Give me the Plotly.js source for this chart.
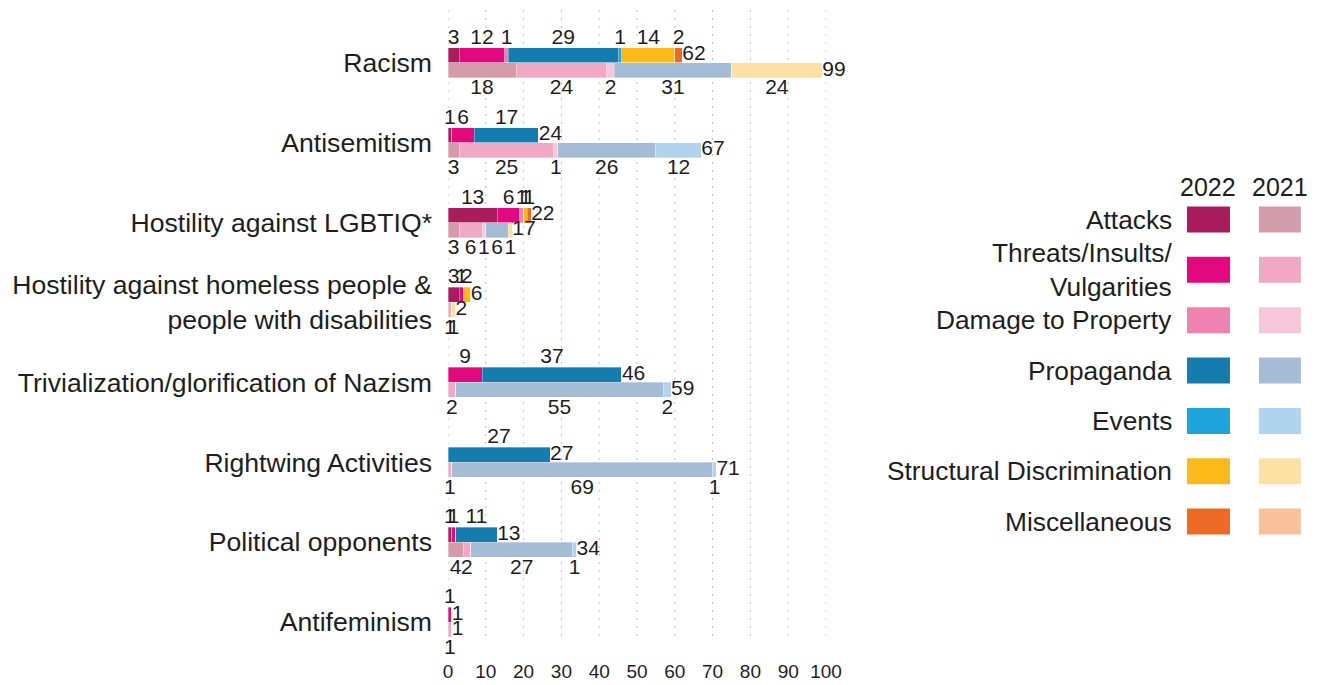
<!DOCTYPE html>
<html><head><meta charset="utf-8">
<script src="https://cdn.plot.ly/plotly-3.0.1.min.js"></script>
<style>html,body{margin:0;padding:0;background:#fff;} #chart{width:1321px;height:685px;}</style>
</head><body><div id="chart"></div>
<script>
// ---------- DATA ----------
const categories = [
  "Racism",
  "Antisemitism",
  "Hostility against LGBTIQ*",
  "Hostility against homeless people &<br>people with disabilities",
  "Trivialization/glorification of Nazism",
  "Rightwing Activities",
  "Political opponents",
  "Antifeminism"
];
const seriesNames = ["Attacks", "Threats/Insults/<br>Vulgarities", "Damage to Property", "Propaganda", "Events", "Structural Discrimination", "Miscellaneous"];
const yearLabels = ["2022", "2021"];
const colors2022 = ["#a91d5f", "#e4087e", "#ee82b0", "#137db0", "#1fa3dc", "#fbb91a", "#ec6a24"];
const colors2021 = ["#d49bab", "#f1a8c3", "#f6c7db", "#a4bcd6", "#b0d3ee", "#fde0a3", "#f8c09b"];

const attacks2022    = [3, 1, 13, 3, 0, 0, 1, 0];
const threats2022    = [12, 6, 6, 1, 9, 0, 1, 1];
const damage2022     = [1, 0, 1, 0, 0, 0, 0, 0];
const propaganda2022 = [29, 17, 0, 0, 37, 27, 11, 0];
const events2022     = [1, 0, 0, 0, 0, 0, 0, 0];
const structural2022 = [14, 0, 1, 2, 0, 0, 0, 0];
const misc2022       = [2, 0, 1, 0, 0, 0, 0, 0];

const attacks2021    = [18, 3, 3, 0, 0, 0, 4, 0];
const threats2021    = [24, 25, 6, 1, 2, 1, 2, 1];
const damage2021     = [2, 1, 1, 0, 0, 0, 0, 0];
const propaganda2021 = [31, 26, 6, 0, 55, 69, 27, 0];
const events2021     = [0, 12, 0, 0, 2, 1, 1, 0];
const structural2021 = [24, 0, 1, 1, 0, 0, 0, 0];
const misc2021       = [0, 0, 0, 0, 0, 0, 0, 0];

const xTicks = [0, 10, 20, 30, 40, 50, 60, 70, 80, 90, 100];

// ---------- BUILD ----------
const values2022 = [attacks2022, threats2022, damage2022, propaganda2022, events2022, structural2022, misc2022];
const values2021 = [attacks2021, threats2021, damage2021, propaganda2021, events2021, structural2021, misc2021];

const FONT = '"Liberation Sans", Arial, Helvetica, sans-serif';
const TXT = '#1e1e1e';
const BAR = 0.188;
const catIdx = categories.map((_, i) => i);
const y2022 = catIdx.map(i => i - BAR / 2);
const y2021 = catIdx.map(i => i + BAR / 2);

const traces = [];
function addBars(values, ypos, colors, year) {
  values.forEach((vals, s) => {
    traces.push({
      type: 'bar', orientation: 'h', x: vals, y: ypos, width: BAR,
      marker: {color: colors[s], line: {color: 'rgba(255,255,255,0.55)', width: 0.6}},
      name: seriesNames[s].replace('<br>', '') + ' ' + year, showlegend: false,
      hovertemplate: '%{x}<extra>' + seriesNames[s].replace('<br>', '') + ' ' + year + '</extra>'
    });
  });
}
addBars(values2022, y2022, colors2022, '2022');
addBars(values2021, y2021, colors2021, '2021');

function labelTrace(values, ypos, dy) {
  const xs = [], ys = [], ts = [];
  catIdx.forEach(i => {
    let cum = 0;
    values.forEach(vals => {
      const v = vals[i];
      if (v > 0) { xs.push(cum + v / 2); ys.push(ypos[i] + dy); ts.push(String(v)); }
      cum += v;
    });
  });
  return {type: 'scatter', mode: 'text', x: xs, y: ys, text: ts, textposition: 'middle center',
    textfont: {family: FONT, size: 21, color: TXT}, cliponaxis: false, showlegend: false, hoverinfo: 'skip'};
}
function totalTrace(values, ypos) {
  const totals = catIdx.map(i => values.reduce((a, vals) => a + vals[i], 0));
  return {type: 'scatter', mode: 'text', x: totals, y: ypos, text: totals.map(String), textposition: 'middle right',
    textfont: {family: FONT, size: 21, color: TXT}, cliponaxis: false, showlegend: false, hoverinfo: 'skip'};
}
traces.push(labelTrace(values2022, y2022, -0.21));
traces.push(labelTrace(values2021, y2021, 0.235));
traces.push(totalTrace(values2022, y2022));
traces.push(totalTrace(values2021, y2021));

// ---------- LAYOUT / LEGEND ----------
const W = 1321, H = 685;
const PL = 448, PR = 826.5, PT = 4, PB = 656;
const CAT0 = 62.75, CATSTEP = 79.9;          // pixel centre of first category, px per category
const GRID_TOP = 4, GRID_BOTTOM = 636;
const px = p => (p - PL) / (PR - PL);
const py = p => (PB - p) / (PB - PT);
const yTop = -(CAT0 - PT) / CATSTEP;
const yBottom = (PB - CAT0) / CATSTEP;

const shapes = [], annotations = [];
// dotted vertical gridlines
xTicks.forEach(t => {
  shapes.push({type: 'line', xref: 'x', yref: 'paper', x0: t, x1: t, y0: py(GRID_BOTTOM), y1: py(GRID_TOP),
    line: {color: '#bdbdbd', width: 1, dash: '2px,6px'}, layer: 'below'});
});
const rowY0 = 219.5, rowStep = 50.35;
const colX = [[1188, 1231], [1260, 1302]];
yearLabels.forEach((yl, c) => {
  annotations.push({xref: 'paper', yref: 'paper', x: px((colX[c][0] + colX[c][1]) / 2), y: py(186.5),
    text: yl, showarrow: false, xanchor: 'center', yanchor: 'middle', font: {family: FONT, size: 25, color: TXT}});
});
seriesNames.forEach((nm, s) => {
  const cy = rowY0 + rowStep * s;
  annotations.push({xref: 'paper', yref: 'paper', x: px(1175), y: py(cy), text: nm, showarrow: false,
    xanchor: 'right', yanchor: 'middle', align: 'right', font: {family: FONT, size: 26.3, color: TXT}});
  [colors2022, colors2021].forEach((cols, c) => {
    shapes.push({type: 'rect', xref: 'paper', yref: 'paper', x0: px(colX[c][0]), x1: px(colX[c][1]),
      y0: py(cy + 13), y1: py(cy - 13), fillcolor: cols[s], line: {width: 0}});
  });
});

const layout = {
  width: W, height: H,
  margin: {l: PL, r: W - PR, t: PT, b: H - PB, pad: 0, autoexpand: false},
  paper_bgcolor: '#ffffff', plot_bgcolor: '#ffffff',
  barmode: 'stack', showlegend: false,
  font: {family: FONT, color: TXT},
  xaxis: {range: [0, 100], tickvals: xTicks, ticktext: xTicks.map(String), showgrid: false,
    zeroline: false, showline: false,
    ticks: '', tickfont: {family: FONT, size: 19, color: TXT}, ticklabelstandoff: 2, fixedrange: true},
  yaxis: {range: [yBottom, yTop], tickvals: catIdx, ticktext: categories, showgrid: false,
    zeroline: false, showline: false, ticks: '', tickfont: {family: FONT, size: 26.6, color: TXT},
    ticklabelstandoff: 15, fixedrange: true},
  shapes: shapes, annotations: annotations
};

Plotly.newPlot('chart', traces, layout, {displayModeBar: false, staticPlot: true});
</script>
</body></html>
